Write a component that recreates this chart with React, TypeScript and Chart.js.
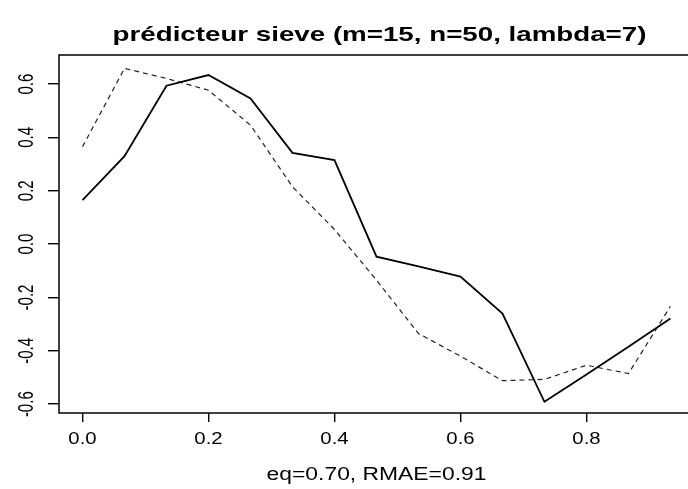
import { useEffect, useRef } from "react";
import { Chart, registerables } from "chart.js";

Chart.register(...registerables);

// ---- data ----
const xValues = [0, 0.0667, 0.1333, 0.2, 0.2667, 0.3333, 0.4, 0.4667, 0.5333, 0.6, 0.6667, 0.7333, 0.8, 0.8667, 0.9333];
const solidValues = [0.165, 0.33, 0.594, 0.634, 0.546, 0.342, 0.315, -0.047, -0.083, -0.122, -0.26, -0.591, -0.489, -0.385, -0.279];
const dashedValues = [0.365, 0.659, 0.621, 0.577, 0.446, 0.215, 0.055, -0.135, -0.335, -0.42, -0.512, -0.507, -0.454, -0.485, -0.233];
const xTicks = [0, 0.2, 0.4, 0.6, 0.8];
const yTicks = [-0.6, -0.4, -0.2, 0, 0.2, 0.4, 0.6];
const titleText = "prédicteur sieve (m=15, n=50, lambda=7)";
const subText = "eq=0.70, RMAE=0.91";

const FONT = '"Liberation Sans", Arial, Helvetica, sans-serif';
const STRETCH = 1.27;

const textPlugin = {
  id: "rText",
  afterDraw(chart: any) {
    const ctx = chart.ctx as CanvasRenderingContext2D;
    const area = chart.chartArea;
    const xs = chart.scales.x;
    const ys = chart.scales.y;
    ctx.save();
    // box
    ctx.strokeStyle = "#000";
    ctx.lineWidth = 1.5;
    ctx.strokeRect(area.left, area.top, area.right - area.left, area.bottom - area.top);

    ctx.fillStyle = "#000";
    ctx.textAlign = "center";
    ctx.textBaseline = "alphabetic";
    const cx = (area.left + area.right) / 2;

    // title
    ctx.save();
    ctx.font = `bold 21px ${FONT}`;
    ctx.translate(cx + 3, 41);
    ctx.scale(1.32, 1);
    ctx.fillText(titleText, 0, 0);
    ctx.restore();

    // sub / x label
    ctx.save();
    ctx.font = `18px ${FONT}`;
    ctx.translate(cx, 480);
    ctx.scale(STRETCH, 1);
    ctx.fillText(subText, 0, 0);
    ctx.restore();

    // x tick labels
    ctx.font = `16px ${FONT}`;
    xs.ticks.forEach((t: any) => {
      const px = xs.getPixelForValue(t.value);
      ctx.save();
      ctx.translate(px, 444);
      ctx.scale(STRETCH, 1);
      ctx.fillText(Number(t.value).toFixed(1), 0, 0);
      ctx.restore();
    });

    // y tick labels (rotated)
    ctx.font = `15px ${FONT}`;
    ys.ticks.forEach((t: any) => {
      const py = ys.getPixelForValue(t.value);
      ctx.save();
      ctx.translate(33, py);
      ctx.rotate(-Math.PI / 2);
      ctx.scale(1, 1.45);
      ctx.fillText(Number(t.value).toFixed(1), 0, 0);
      ctx.restore();
    });
    ctx.restore();
  },
};

export default function App() {
  const ref = useRef<HTMLCanvasElement | null>(null);
  useEffect(() => {
    if (!ref.current) return;
    const chart = new Chart(ref.current, {
      type: "line",
      data: {
        datasets: [
          {
            data: xValues.map((x, i) => ({ x, y: solidValues[i] })),
            borderColor: "#000",
            borderWidth: 1.8,
            pointRadius: 0,
            tension: 0,
          },
          {
            data: xValues.map((x, i) => ({ x, y: dashedValues[i] })),
            borderColor: "#222",
            borderWidth: 1.2,
            borderDash: [5, 4],
            pointRadius: 0,
            tension: 0,
          },
        ],
      },
      options: {
        animation: false,
        responsive: false,
        devicePixelRatio: 1,
        layout: { padding: { top: 55, right: 6, left: 0, bottom: 0 } },
        plugins: {
          legend: { display: false },
          title: { display: false },
          tooltip: { enabled: false },
        },
        scales: {
          x: {
            type: "linear",
            min: -0.0373,
            max: 0.9707,
            afterBuildTicks: (a: any) => {
              a.ticks = xTicks.map((v) => ({ value: v }));
            },
            afterFit: (a: any) => {
              a.height = 76;
            },
            grid: { drawOnChartArea: false, drawTicks: true, tickLength: 9, color: "#000", lineWidth: 1.4 },
            border: { display: false },
            ticks: { display: false },
          },
          y: {
            type: "linear",
            min: -0.633,
            max: 0.709,
            afterBuildTicks: (a: any) => {
              a.ticks = yTicks.map((v) => ({ value: v }));
            },
            afterFit: (a: any) => {
              a.width = 59;
            },
            grid: { drawOnChartArea: false, drawTicks: true, tickLength: 11, color: "#000", lineWidth: 1.4 },
            border: { display: false },
            ticks: { display: false },
          },
        },
      },
      plugins: [textPlugin],
    } as any);
    return () => chart.destroy();
  }, []);

  return (
    <div style={{ position: "fixed", left: 0, top: 0, width: 688, height: 489, overflow: "hidden", background: "#fff" }}>
      <canvas ref={ref} width={700} height={489} style={{ display: "block" }} />
    </div>
  );
}
